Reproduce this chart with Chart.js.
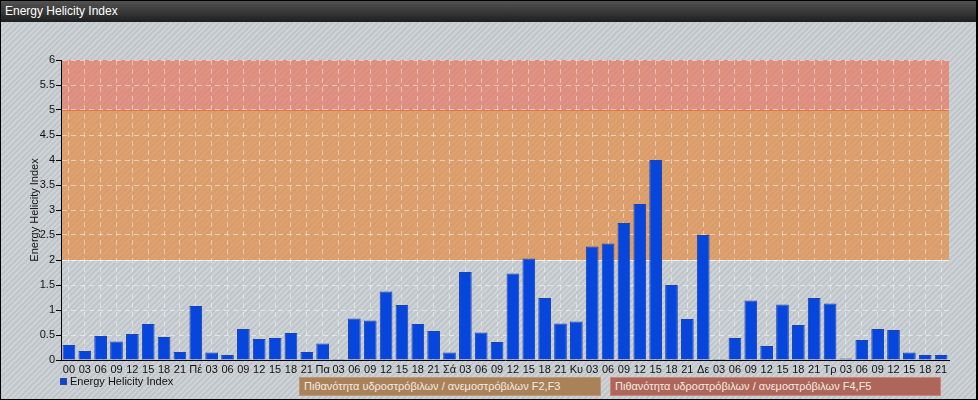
<!DOCTYPE html>
<html>
<head>
<meta charset="utf-8">
<script src="https://cdn.jsdelivr.net/npm/chart.js@4.4.1/dist/chart.umd.min.js"></script>
<style>
  html, body { margin: 0; padding: 0; }
  #wrap {
    position: relative; width: 978px; height: 400px; overflow: hidden;
    background: repeating-linear-gradient(135deg, #cdd2d7 0px, #cdd2d7 2px, #c1c6cb 2px, #c1c6cb 4px);
    font-family: "Liberation Sans", Arial, sans-serif;
  }
  #chart { position: absolute; left: 0; top: 0; }
  #head {
    position: absolute; left: 0; top: 0; width: 978px; height: 22px;
    background: linear-gradient(#555, #1f1f1f);
    color: #fff; font-size: 12px; line-height: 23px; padding-left: 5px; box-sizing: border-box;
  }
  #frame {
    position: absolute; left: 0; top: 0; width: 978px; height: 400px;
    border: 1px solid #000; border-right-width: 2px; box-sizing: border-box; pointer-events: none;
  }
  #legend { position: absolute; left: 60px; top: 375px; font-size: 11px; color: #111; }
  #legend i { display: inline-block; width: 7px; height: 7px; background: #0a46dc; border: 1px solid #2a4a9a; margin-right: 3px; vertical-align: 0; box-sizing: border-box; }
  .note {
    position: absolute; top: 377px; height: 19px; box-sizing: border-box;
    font-size: 11px; line-height: 17px; color: #f4ece4; padding-left: 4px;
  }
</style>
</head>
<body>
<div id="wrap">
  <canvas id="chart" width="978" height="400"></canvas>
  <div id="head">Energy Helicity Index</div>
  <div id="legend"><i></i>Energy Helicity Index</div>
  <div class="note" id="note1"></div>
  <div class="note" id="note2"></div>
  <div id="frame"></div>
</div>
<script>
/* ΔΕΔΟΜΕΝΑ */
const timeLabels = [
  "00", "03", "06", "09", "12", "15", "18", "21",
  "Πέ", "03", "06", "09", "12", "15", "18", "21",
  "Πα", "03", "06", "09", "12", "15", "18", "21",
  "Σά", "03", "06", "09", "12", "15", "18", "21",
  "Κυ", "03", "06", "09", "12", "15", "18", "21",
  "Δε", "03", "06", "09", "12", "15", "18", "21",
  "Τρ", "03", "06", "09", "12", "15", "18", "21",
];
const ehiValues = [
  0.3, 0.18, 0.48, 0.37, 0.52, 0.72, 0.46, 0.16,
  1.08, 0.15, 0.1, 0.62, 0.42, 0.44, 0.54, 0.16,
  0.33, 0.02, 0.83, 0.79, 1.37, 1.1, 0.72, 0.58,
  0.15, 1.76, 0.55, 0.36, 1.73, 2.03, 1.24, 0.73,
  0.77, 2.27, 2.33, 2.74, 3.12, 4.0, 1.5, 0.82,
  2.5, 0.02, 0.44, 1.19, 0.28, 1.11, 0.7, 1.24,
  1.13, 0.03, 0.4, 0.62, 0.6, 0.15, 0.1, 0.1,
];
const yMin = 0;
const yMax = 6;
const yStep = 0.5;
const bandFrom = [2, 5];
const bandTo = [5, 6];
const bandNotes = [
  "Πιθανότητα υδροστρόβιλων / ανεμοστρόβιλων F2,F3",
  "Πιθανότητα υδροστρόβιλων / ανεμοστρόβιλων F4,F5",
];

/* στυλ */
const bandFill = ["rgba(233,130,43,0.6)", "rgba(238,100,70,0.58)"];
const bandEdge = ["rgba(235,235,235,0.8)", "rgba(240,110,60,0.9)"];
const noteBoxes = [
  { id: "note1", left: 299, width: 302, bg: "#a9825a", border: "#c09670" },
  { id: "note2", left: 610, width: 331, bg: "#ad6659", border: "#c9857a" },
];
noteBoxes.forEach((b, i) => {
  const el = document.getElementById(b.id);
  el.textContent = bandNotes[i];
  el.style.left = b.left + "px";
  el.style.width = b.width + "px";
  el.style.background = b.bg;
  el.style.border = "1px solid " + b.border;
});

const bandsPlugin = {
  id: "bands",
  beforeDraw(chart) {
    const { ctx, chartArea: a, scales: { y } } = chart;
    ctx.save();
    bandFrom.forEach((from, i) => {
      const top = y.getPixelForValue(bandTo[i]);
      const bottom = y.getPixelForValue(from);
      ctx.fillStyle = bandFill[i];
      ctx.fillRect(a.left, top, a.right - a.left, bottom - top);
      ctx.strokeStyle = bandEdge[i];
      ctx.lineWidth = 1;
      ctx.beginPath();
      ctx.moveTo(a.left, Math.round(bottom) + 0.5);
      ctx.lineTo(a.right, Math.round(bottom) + 0.5);
      ctx.stroke();
    });
    ctx.restore();
  },
};

Chart.defaults.font.family = '"Liberation Sans", Arial, sans-serif';
Chart.defaults.font.size = 11;
Chart.defaults.color = "#111";

new Chart(document.getElementById("chart"), {
  type: "bar",
  data: {
    labels: timeLabels,
    datasets: [
      {
        label: "Energy Helicity Index",
        data: ehiValues,
        backgroundColor: "#0646dc",
        borderColor: "#1c44b0",
        borderWidth: 1,
        categoryPercentage: 1,
        barPercentage: 0.8,
      },
    ],
  },
  options: {
    responsive: false,
    animation: false,
    devicePixelRatio: 1,
    layout: { padding: { top: 60, right: 29, bottom: 0, left: 0 } },
    plugins: {
      legend: { display: false },
      tooltip: { enabled: false },
    },
    scales: {
      x: {
        afterFit(s) { s.height = 40; },
        grid: {
          offset: false,
          color: "rgba(255,255,255,0.45)",
          drawTicks: false,
        },
        border: { color: "#000", width: 1, dash: [5, 4] },
        ticks: { autoSkip: false, maxRotation: 0, minRotation: 0, padding: 3, color: "#111" },
      },
      y: {
        min: yMin,
        max: yMax,
        afterFit(s) { s.width = 61; },
        grid: {
          color: "rgba(255,255,255,0.5)",
          tickColor: "#000",
          tickLength: 5,
          tickBorderDash: [],
        },
        border: { color: "#000", width: 1, dash: [5, 4] },
        ticks: { stepSize: yStep, padding: 1, color: "#111", callback: (v) => String(v) },
        title: {
          display: true,
          text: "Energy Helicity Index",
          color: "#111",
          padding: { top: 28, bottom: 0 },
        },
      },
    },
  },
  plugins: [bandsPlugin],
});
</script>
</body>
</html>
